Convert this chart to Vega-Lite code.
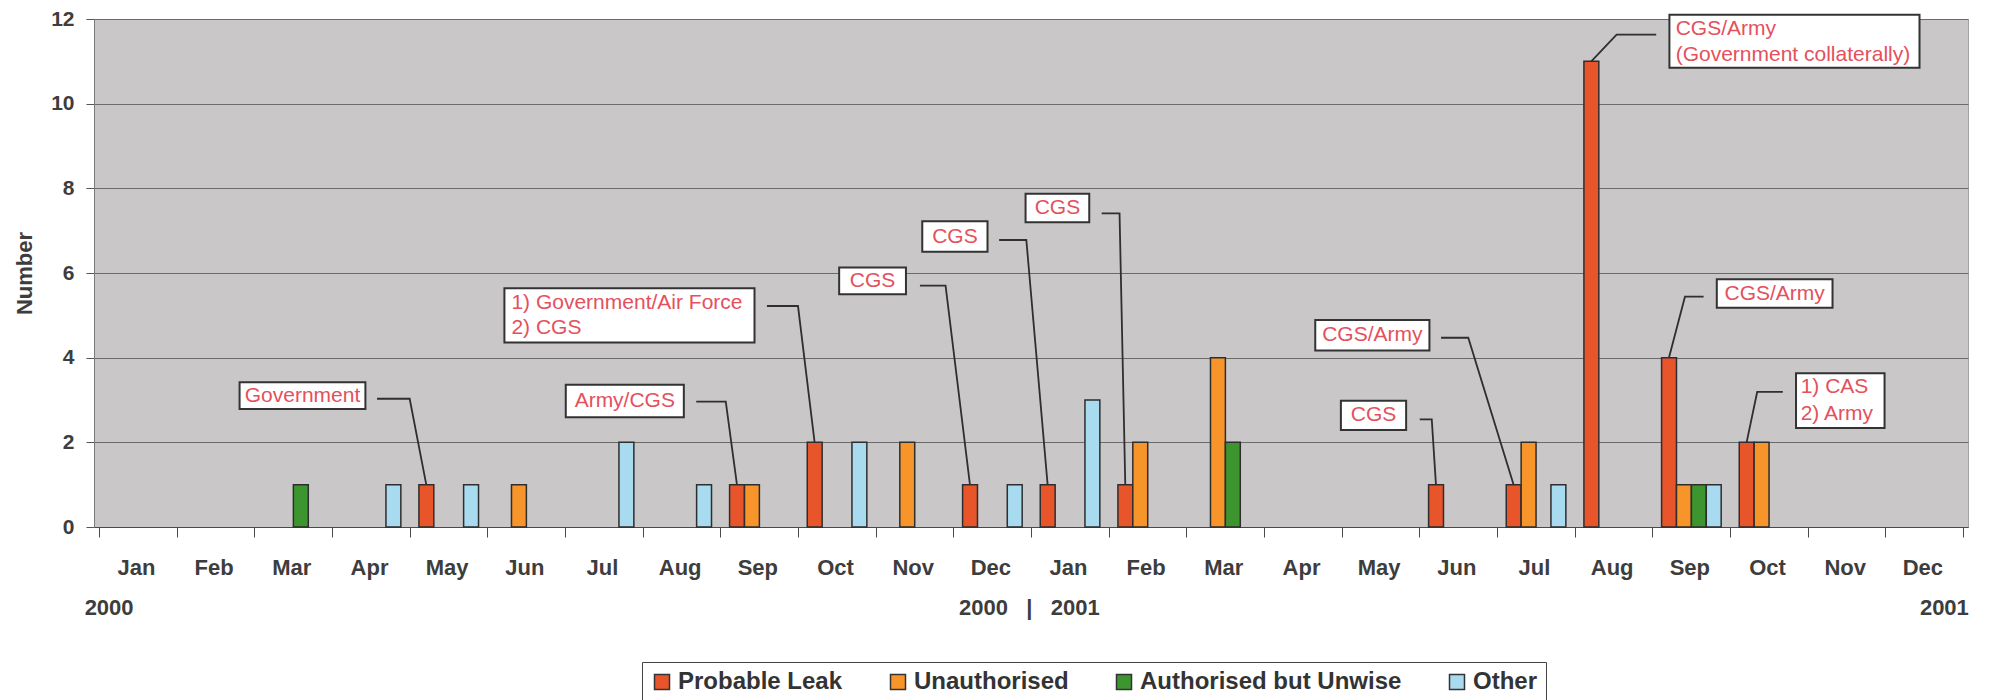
{
  "$schema": "https://vega.github.io/schema/vega-lite/v6.json",
  "width": 1874,
  "height": 508,
  "autosize": {"type": "none"},
  "padding": {"left": 94, "top": 19, "right": 27, "bottom": 173},
  "background": "white",
  "config": {
    "font": "Liberation Sans",
    "view": {"fill": "#c9c7c7", "stroke": "#a3a3a3", "strokeWidth": 1},
    "axis": {"labelFont": "Liberation Sans", "titleFont": "Liberation Sans"},
    "legend": {"labelLimit": 0}
  },
  "datasets": {
    "bars": [
      {"month": "2000-03", "u": 2, "type": "Authorised but Unwise", "v": 1},
      {"month": "2000-04", "u": 3, "type": "Other", "v": 1},
      {"month": "2000-05", "u": 4, "type": "Probable Leak", "v": 1},
      {"month": "2000-05", "u": 4, "type": "Other", "v": 1},
      {"month": "2000-06", "u": 5, "type": "Unauthorised", "v": 1},
      {"month": "2000-07", "u": 6, "type": "Other", "v": 2},
      {"month": "2000-08", "u": 7, "type": "Other", "v": 1},
      {"month": "2000-09", "u": 8, "type": "Probable Leak", "v": 1},
      {"month": "2000-09", "u": 8, "type": "Unauthorised", "v": 1},
      {"month": "2000-10", "u": 9, "type": "Probable Leak", "v": 2},
      {"month": "2000-10", "u": 9, "type": "Other", "v": 2},
      {"month": "2000-11", "u": 10, "type": "Unauthorised", "v": 2},
      {"month": "2000-12", "u": 11, "type": "Probable Leak", "v": 1},
      {"month": "2000-12", "u": 11, "type": "Other", "v": 1},
      {"month": "2001-01", "u": 12, "type": "Probable Leak", "v": 1},
      {"month": "2001-01", "u": 12, "type": "Other", "v": 3},
      {"month": "2001-02", "u": 13, "type": "Probable Leak", "v": 1},
      {"month": "2001-02", "u": 13, "type": "Unauthorised", "v": 2},
      {"month": "2001-03", "u": 14, "type": "Unauthorised", "v": 4},
      {"month": "2001-03", "u": 14, "type": "Authorised but Unwise", "v": 2},
      {"month": "2001-06", "u": 17, "type": "Probable Leak", "v": 1},
      {"month": "2001-07", "u": 18, "type": "Probable Leak", "v": 1},
      {"month": "2001-07", "u": 18, "type": "Unauthorised", "v": 2},
      {"month": "2001-07", "u": 18, "type": "Other", "v": 1},
      {"month": "2001-08", "u": 19, "type": "Probable Leak", "v": 11},
      {"month": "2001-09", "u": 20, "type": "Probable Leak", "v": 4},
      {"month": "2001-09", "u": 20, "type": "Unauthorised", "v": 1},
      {"month": "2001-09", "u": 20, "type": "Authorised but Unwise", "v": 1},
      {"month": "2001-09", "u": 20, "type": "Other", "v": 1},
      {"month": "2001-10", "u": 21, "type": "Probable Leak", "v": 2},
      {"month": "2001-10", "u": 21, "type": "Unauthorised", "v": 2}
    ],
    "boxes": [
      {"id": 1, "u": 1.81, "u2": 3.43, "v": 3.42, "v2": 2.79},
      {"id": 2, "u": 6.01, "u2": 7.53, "v": 3.36, "v2": 2.59},
      {"id": 3, "u": 5.22, "u2": 8.44, "v": 5.64, "v2": 4.36},
      {"id": 4, "u": 9.53, "u2": 10.39, "v": 6.13, "v2": 5.5},
      {"id": 5, "u": 10.6, "u2": 11.44, "v": 7.22, "v2": 6.5},
      {"id": 6, "u": 11.93, "u2": 12.75, "v": 7.87, "v2": 7.2},
      {"id": 7, "u": 15.99, "u2": 16.83, "v": 2.98, "v2": 2.29},
      {"id": 8, "u": 15.66, "u2": 17.13, "v": 4.89, "v2": 4.17},
      {"id": 9, "u": 20.22, "u2": 23.44, "v": 12.1, "v2": 10.85},
      {"id": 10, "u": 20.83, "u2": 22.32, "v": 5.85, "v2": 5.18},
      {"id": 11, "u": 21.85, "u2": 22.99, "v": 3.63, "v2": 2.34}
    ],
    "texts": [
      {"label": "Government", "u": 2.62, "v": 3.1, "align": "center"},
      {"label": "Army/CGS", "u": 6.77, "v": 2.97, "align": "center"},
      {"label": "1) Government/Air Force", "u": 5.31, "v": 5.3, "align": "left"},
      {"label": "2) CGS", "u": 5.31, "v": 4.71, "align": "left"},
      {"label": "CGS", "u": 9.96, "v": 5.82, "align": "center"},
      {"label": "CGS", "u": 11.02, "v": 6.86, "align": "center"},
      {"label": "CGS", "u": 12.34, "v": 7.53, "align": "center"},
      {"label": "CGS", "u": 16.41, "v": 2.64, "align": "center"},
      {"label": "CGS/Army", "u": 16.395, "v": 4.53, "align": "center"},
      {"label": "CGS/Army", "u": 20.3, "v": 11.77, "align": "left"},
      {"label": "(Government collaterally)", "u": 20.3, "v": 11.15, "align": "left"},
      {"label": "CGS/Army", "u": 21.575, "v": 5.51, "align": "center"},
      {"label": "1) CAS", "u": 21.91, "v": 3.3, "align": "left"},
      {"label": "2) Army", "u": 21.91, "v": 2.68, "align": "left"}
    ],
    "leaders": [
      {"id": 1, "seq": 1, "u": 3.58, "v": 3.03},
      {"id": 1, "seq": 2, "u": 4.0, "v": 3.03},
      {"id": 1, "seq": 3, "u": 4.214, "v": 1},
      {"id": 2, "seq": 1, "u": 7.69, "v": 2.96},
      {"id": 2, "seq": 2, "u": 8.07, "v": 2.96},
      {"id": 2, "seq": 3, "u": 8.214, "v": 1},
      {"id": 3, "seq": 1, "u": 8.6, "v": 5.22},
      {"id": 3, "seq": 2, "u": 9.0, "v": 5.22},
      {"id": 3, "seq": 3, "u": 9.214, "v": 2},
      {"id": 4, "seq": 1, "u": 10.57, "v": 5.7},
      {"id": 4, "seq": 2, "u": 10.9, "v": 5.7},
      {"id": 4, "seq": 3, "u": 11.214, "v": 1},
      {"id": 5, "seq": 1, "u": 11.59, "v": 6.78},
      {"id": 5, "seq": 2, "u": 11.94, "v": 6.78},
      {"id": 5, "seq": 3, "u": 12.214, "v": 1},
      {"id": 6, "seq": 1, "u": 12.91, "v": 7.41},
      {"id": 6, "seq": 2, "u": 13.14, "v": 7.41},
      {"id": 6, "seq": 3, "u": 13.214, "v": 1},
      {"id": 7, "seq": 1, "u": 17.005, "v": 2.54},
      {"id": 7, "seq": 2, "u": 17.16, "v": 2.54},
      {"id": 7, "seq": 3, "u": 17.214, "v": 1},
      {"id": 8, "seq": 1, "u": 17.28, "v": 4.47},
      {"id": 8, "seq": 2, "u": 17.63, "v": 4.47},
      {"id": 8, "seq": 3, "u": 18.214, "v": 1},
      {"id": 9, "seq": 1, "u": 20.05, "v": 11.63},
      {"id": 9, "seq": 2, "u": 19.54, "v": 11.63},
      {"id": 9, "seq": 3, "u": 19.214, "v": 11},
      {"id": 10, "seq": 1, "u": 20.66, "v": 5.44},
      {"id": 10, "seq": 2, "u": 20.42, "v": 5.44},
      {"id": 10, "seq": 3, "u": 20.214, "v": 4},
      {"id": 11, "seq": 1, "u": 21.68, "v": 3.19},
      {"id": 11, "seq": 2, "u": 21.35, "v": 3.19},
      {"id": 11, "seq": 3, "u": 21.214, "v": 2}
    ],
    "years": [
      {"label": "2000", "u": 0.13, "v": -1.914},
      {"label": "2000\u00a0\u00a0\u00a0|\u00a0\u00a0\u00a02001", "u": 11.98, "v": -1.914},
      {"label": "2001", "u": 23.76, "v": -1.914}
    ]
  },
  "encoding": {
    "x": {
      "field": "u", "type": "quantitative", "title": null,
      "scale": {"domain": [0, 24], "nice": false, "zero": false},
      "axis": {
        "values": [0,1,2,3,4,5,6,7,8,9,10,11,12,13,14,15,16,17,18,19,20,21,22,23,24],
        "labelExpr": "datum.value < 24 ? ['Jan','Feb','Mar','Apr','May','Jun','Jul','Aug','Sep','Oct','Nov','Dec'][datum.value % 12] : ''",
        "labelOffset": 37, "labelFlush": false, "labelBound": false,
        "labelAngle": 0, "labelOverlap": false, "tickSize": 10,
        "tickColor": "#4a4a4a", "domainColor": "#4a4a4a", "labelPadding": 20,
        "labelFontWeight": "bold", "labelFontSize": 22, "labelColor": "#3d3d3d", "grid": false
      }
    },
    "y": {
      "field": "v", "type": "quantitative", "title": "Number",
      "scale": {"domain": [0, 12], "nice": false},
      "axis": {
        "values": [0, 2, 4, 6, 8, 10, 12], "grid": true, "gridColor": "#6a6a6a", "gridWidth": 1,
        "tickSize": 8, "tickColor": "#555555", "domainColor": "#7a7a7a",
        "labelFontWeight": "bold", "labelFontSize": 21, "labelColor": "#3d3d3d", "labelPadding": 12,
        "titleFontWeight": "bold", "titleFontSize": 22, "titleColor": "#3d3d3d", "titlePadding": 14
      }
    }
  },
  "layer": [
    {
      "data": {"name": "bars"},
      "transform": [{"filter": "datum.type == 'Probable Leak'"}],
      "mark": {"type": "bar", "orient": "vertical", "width": 14.9, "xOffset": 16.7, "stroke": "#2e2e2e", "strokeWidth": 1.5},
      "encoding": {
        "color": {
          "field": "type", "type": "nominal",
          "scale": {"domain": ["Probable Leak", "Unauthorised", "Authorised but Unwise", "Other"], "range": ["#e8552b", "#f7952a", "#3d952f", "#a8dbef"]},
          "legend": {
            "title": null, "orient": "none", "legendX": 548, "legendY": 643, "direction": "horizontal",
            "symbolType": "square", "symbolSize": 225, "symbolStrokeColor": "#333333", "symbolStrokeWidth": 1.5,
            "labelFontWeight": "bold", "labelFontSize": 24, "labelColor": "#333333", "labelOffset": 4, "labelLimit": 0,
            "columnPadding": 43, "padding": 8, "fillColor": "white", "strokeColor": "#444444"
          }
        }
      }
    },
    {
      "data": {"name": "bars"},
      "transform": [{"filter": "datum.type == 'Unauthorised'"}],
      "mark": {"type": "bar", "orient": "vertical", "width": 14.9, "xOffset": 31.6, "stroke": "#2e2e2e", "strokeWidth": 1.5},
      "encoding": {
        "color": {
          "field": "type", "type": "nominal",
          "scale": {"domain": ["Probable Leak", "Unauthorised", "Authorised but Unwise", "Other"], "range": ["#e8552b", "#f7952a", "#3d952f", "#a8dbef"]},
          "legend": {
            "title": null, "orient": "none", "legendX": 548, "legendY": 643, "direction": "horizontal",
            "symbolType": "square", "symbolSize": 225, "symbolStrokeColor": "#333333", "symbolStrokeWidth": 1.5,
            "labelFontWeight": "bold", "labelFontSize": 24, "labelColor": "#333333", "labelOffset": 4, "labelLimit": 0,
            "columnPadding": 43, "padding": 8, "fillColor": "white", "strokeColor": "#444444"
          }
        }
      }
    },
    {
      "data": {"name": "bars"},
      "transform": [{"filter": "datum.type == 'Authorised but Unwise'"}],
      "mark": {"type": "bar", "orient": "vertical", "width": 14.9, "xOffset": 46.5, "stroke": "#2e2e2e", "strokeWidth": 1.5},
      "encoding": {
        "color": {
          "field": "type", "type": "nominal",
          "scale": {"domain": ["Probable Leak", "Unauthorised", "Authorised but Unwise", "Other"], "range": ["#e8552b", "#f7952a", "#3d952f", "#a8dbef"]},
          "legend": {
            "title": null, "orient": "none", "legendX": 548, "legendY": 643, "direction": "horizontal",
            "symbolType": "square", "symbolSize": 225, "symbolStrokeColor": "#333333", "symbolStrokeWidth": 1.5,
            "labelFontWeight": "bold", "labelFontSize": 24, "labelColor": "#333333", "labelOffset": 4, "labelLimit": 0,
            "columnPadding": 43, "padding": 8, "fillColor": "white", "strokeColor": "#444444"
          }
        }
      }
    },
    {
      "data": {"name": "bars"},
      "transform": [{"filter": "datum.type == 'Other'"}],
      "mark": {"type": "bar", "orient": "vertical", "width": 14.9, "xOffset": 61.4, "stroke": "#2e2e2e", "strokeWidth": 1.5},
      "encoding": {
        "color": {
          "field": "type", "type": "nominal",
          "scale": {"domain": ["Probable Leak", "Unauthorised", "Authorised but Unwise", "Other"], "range": ["#e8552b", "#f7952a", "#3d952f", "#a8dbef"]},
          "legend": {
            "title": null, "orient": "none", "legendX": 548, "legendY": 643, "direction": "horizontal",
            "symbolType": "square", "symbolSize": 225, "symbolStrokeColor": "#333333", "symbolStrokeWidth": 1.5,
            "labelFontWeight": "bold", "labelFontSize": 24, "labelColor": "#333333", "labelOffset": 4, "labelLimit": 0,
            "columnPadding": 43, "padding": 8, "fillColor": "white", "strokeColor": "#444444"
          }
        }
      }
    },
    {
      "data": {"name": "leaders"},
      "mark": {"type": "line", "color": "#2f2f2f", "strokeWidth": 1.8},
      "encoding": {
        "detail": {"field": "id", "type": "nominal"},
        "order": {"field": "seq", "type": "quantitative"}
      }
    },
    {
      "data": {"name": "boxes"},
      "mark": {"type": "rect", "fill": "white", "stroke": "#333333", "strokeWidth": 2},
      "encoding": {
        "x2": {"field": "u2"},
        "y2": {"field": "v2"}
      }
    },
    {
      "data": {"name": "texts"},
      "transform": [{"filter": "datum.align == 'center'"}],
      "mark": {"type": "text", "align": "center", "baseline": "middle", "font": "Liberation Sans", "fontSize": 21, "color": "#e4505c"},
      "encoding": {"text": {"field": "label"}}
    },
    {
      "data": {"name": "texts"},
      "transform": [{"filter": "datum.align == 'left'"}],
      "mark": {"type": "text", "align": "left", "baseline": "middle", "font": "Liberation Sans", "fontSize": 21, "color": "#e4505c"},
      "encoding": {"text": {"field": "label"}}
    },
    {
      "data": {"name": "years"},
      "mark": {"type": "text", "align": "center", "baseline": "middle", "font": "Liberation Sans", "fontSize": 22, "fontWeight": "bold", "color": "#3d3d3d"},
      "encoding": {"text": {"field": "label"}}
    }
  ]
}
